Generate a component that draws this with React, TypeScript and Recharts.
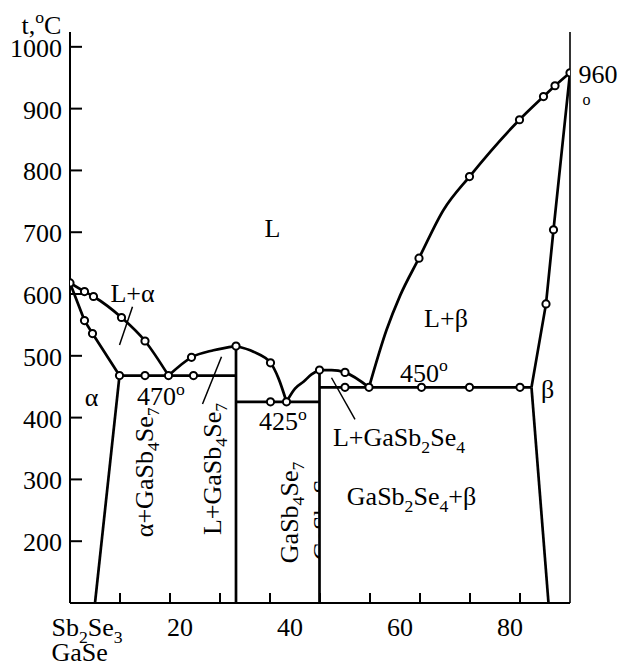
import React from 'react';
import { ComposedChart, XAxis, YAxis, Line, Scatter, ReferenceLine, ReferenceDot } from 'recharts';

// ---- data (x: mol % GaSe, t: temperature °C) ----
const liquidusAlpha = [[0, 618], [2.9, 604], [4.7, 596], [10.3, 562], [15.0, 524], [19.7, 468]];
const solidusAlpha = [[0, 618], [2.9, 557], [4.5, 536], [9.9, 468]];
const solvusAlpha = [[9.9, 468], [5.0, 100]];
const eutectic470 = [[9.9, 468], [33.2, 468]];
const liquidusA1Left = [[19.7, 468], [24.3, 497.5], [28.7, 509], [33.2, 515.8]];
const liquidusA1Right = [[33.2, 515.8], [36.7, 506.6], [40.1, 488.7], [41.7, 463.5], [43.3, 425.6]];
const compoundA1 = [[33.2, 515.8], [33.2, 100]];
const eutectic425 = [[33.2, 425.6], [49.9, 425.6]];
const liquidusA2Left = [[43.3, 425.6], [45.0, 447], [46.7, 458], [48.3, 470], [49.9, 477]];
const compoundA2 = [[49.9, 477], [49.9, 100]];
const liquidusA2Right = [[49.9, 477], [52.3, 477], [55.0, 473.2], [59.8, 449]];
const line450 = [[49.9, 449], [92.3, 449]];
const liquidusBeta = [[59.8, 449], [63.3, 541.7], [66.0, 597], [69.8, 658], [74.7, 736], [79.9, 790], [89.9, 882], [94.7, 919.5], [97.0, 937], [100, 958]];
const solidusBeta = [[100, 958], [96.7, 704], [95.2, 584], [92.3, 449]];
const solvusBeta = [[92.3, 449], [95.7, 100]];

const measuredPoints = [
  [0, 618], [2.9, 604], [4.7, 596], [10.3, 562], [15.0, 524], [2.9, 557], [4.5, 536],
  [9.9, 468], [15.0, 468], [19.7, 468], [24.7, 468], [24.3, 497.5], [33.2, 515.8], [40.1, 488.7],
  [40.1, 425.6], [43.3, 425.6], [49.9, 477], [55.0, 473.2], [55.0, 449], [59.8, 449], [70.3, 449],
  [79.9, 449], [90.0, 449], [69.8, 658], [79.9, 790], [89.9, 882], [94.7, 919.5], [97.0, 937],
  [100, 958], [96.7, 704], [95.2, 584],
];

const yTicks = [200, 300, 400, 500, 600, 700, 800, 900, 1000];
const xTicks = [10, 20, 30, 40, 50, 60, 70, 80, 90];
const xTickLabels = [20, 40, 60, 80];

const curvedSeries = [liquidusAlpha, liquidusA1Left, liquidusA1Right, liquidusA2Left, liquidusA2Right, liquidusBeta];
const straightSeries = [solidusAlpha, solvusAlpha, eutectic470, compoundA1, eutectic425, compoundA2, line450, solidusBeta, solvusBeta];

const leaders = [
  [[12.5, 579.4], [9.9, 517.4]],
  [[30.3, 498.5], [26.5, 421.9]],
  [[52.3, 464.5], [57.0, 397]],
];

// labels: text, x, t, anchor
const labels: [string, number, number, string][] = [
  ['L', 40.5, 692.8, 'middle'],
  ['L+α', 12.5, 587, 'middle'],
  ['α', 4.3, 418.6, 'middle'],
  ['470^o', 18.2, 420, 'middle'],
  ['425^o', 42.6, 380, 'middle'],
  ['450^o', 70.8, 458, 'middle'],
  ['L+GaSb_2Se_4', 65.8, 354, 'middle'],
  ['GaSb_2Se_4+β', 68.3, 258.3, 'middle'],
  ['β', 95.5, 431.6, 'middle'],
  ['L+β', 75.2, 546.6, 'middle'],
  ['960', 101.7, 941.2, 'start'],
  ['t,^oC', -9.7, 1021, 'start'],
  ['Sb_2Se_3', -3.7, 46.2, 'start'],
  ['GaSe', -3.7, 6.2, 'start'],
];
const verticalLabels: [string, number, number][] = [
  ['α+GaSb_4Se_7', 16.6, 206.5],
  ['L+GaSb_4Se_7', 30.2, 210],
  ['GaSb_4Se_7', 45.6, 164.4],
];
const hiddenLabel: [string, number, number] = ['GaSb_2Se_4', 49.9, 169];

const toPts = (a: number[][]) => a.map(([x, t]) => ({ x, t }));
const FONT = 'Liberation Serif, Times New Roman, serif';

function rich(text: string, size: number) {
  const out: any[] = [];
  let shift = 0;
  for (let i = 0; i < text.length; i++) {
    const c = text[i];
    if ((c === '_' || c === '^') && i + 1 < text.length) {
      const target = c === '_' ? size * 0.25 : -size * 0.4;
      out.push(<tspan key={i} dy={target - shift} fontSize={size * 0.68}>{text[i + 1]}</tspan>);
      shift = target;
      i++;
    } else {
      out.push(<tspan key={i} dy={-shift}>{c}</tspan>);
      shift = 0;
    }
  }
  return out;
}

const YTick = (p: any) => {
  const { x, y, payload } = p;
  return (
    <g>
      <line x1={x} x2={x + 12} y1={y} y2={y} stroke="#000" strokeWidth={2} />
      <text x={x - 8} y={y + 10} textAnchor="end" fontFamily={FONT} fontSize={26} fill="#000">{payload.value}</text>
    </g>
  );
};

const XTick = (p: any) => {
  const { x, y, payload } = p;
  const v = payload.value;
  return (
    <g>
      <line x1={x} x2={x} y1={y} y2={y - 10} stroke="#000" strokeWidth={2} />
      {xTickLabels.includes(v) && (
        <text x={x + v * 0.5} y={y + 33} textAnchor="middle" fontFamily={FONT} fontSize={26} fill="#000">{v}</text>
      )}
    </g>
  );
};

const circleShape = (p: any) => (
  <circle cx={p.cx} cy={p.cy} r={3.6} fill="#fff" stroke="#000" strokeWidth={2} />
);

export default function App() {
  return (
    <div style={{ position: 'absolute', left: 0, top: 0, background: '#fff' }}>
      <ComposedChart width={619} height={666} margin={{ top: 32, right: 49, bottom: 33, left: 0 }}>
        <XAxis type="number" dataKey="x" domain={[0, 100]} ticks={xTicks} interval={0} height={30}
          axisLine={{ stroke: '#000', strokeWidth: 2 }} tickLine={false} tickSize={0} tickMargin={0} tick={<XTick />} allowDataOverflow />
        <YAxis type="number" dataKey="t" domain={[100, 1024]} ticks={yTicks} interval={0} width={70}
          axisLine={{ stroke: '#000', strokeWidth: 2 }} tickLine={false} tickSize={0} tickMargin={0} tick={<YTick />} allowDataOverflow />
        <ReferenceLine x={100} stroke="#000" strokeWidth={1.6} />
        {leaders.map((s, i) => (
          <ReferenceLine key={'ld' + i} segment={[{ x: s[0][0], y: s[0][1] }, { x: s[1][0], y: s[1][1] }]} stroke="#000" strokeWidth={1.5} ifOverflow="visible" />
        ))}
        {straightSeries.map((s, i) => (
          <Line key={'s' + i} data={toPts(s)} dataKey="t" type="linear" stroke="#000" strokeWidth={2.7} dot={false} activeDot={false} isAnimationActive={false} />
        ))}
        {curvedSeries.map((s, i) => (
          <Line key={'c' + i} data={toPts(s)} dataKey="t" type="monotone" stroke="#000" strokeWidth={2.7} dot={false} activeDot={false} isAnimationActive={false} />
        ))}
        <Scatter data={toPts(measuredPoints)} dataKey="t" shape={circleShape} isAnimationActive={false} />
        {labels.map(([text, x, t, anchor], i) => (
          <ReferenceDot key={'lb' + i} x={x} y={t} r={0} ifOverflow="visible"
            shape={(p: any) => (
              <text x={p.cx} y={p.cy} textAnchor={anchor} fontFamily={FONT} fontSize={26} fill="#000">{rich(text, 26)}</text>
            )} />
        ))}
        <ReferenceDot x={101.7} y={941.2} r={0} ifOverflow="visible"
          shape={(p: any) => <text x={p.cx + 4} y={p.cy + 22} fontFamily={FONT} fontSize={16} fill="#000">o</text>} />
        {verticalLabels.map(([text, x, t], i) => (
          <ReferenceDot key={'vl' + i} x={x} y={t} r={0} ifOverflow="visible"
            shape={(p: any) => (
              <text x={p.cx} y={p.cy} transform={`rotate(-90 ${p.cx} ${p.cy})`} textAnchor="start" fontFamily={FONT} fontSize={26} fill="#000">{rich(text, 26)}</text>
            )} />
        ))}
        <ReferenceDot x={hiddenLabel[1]} y={hiddenLabel[2]} r={0} ifOverflow="visible"
          shape={(p: any) => (
            <g>
              <defs>
                <clipPath id="hiddenClip">
                  <rect x={p.cx - 40} y={p.cy - 160} width={40} height={170} />
                </clipPath>
              </defs>
              <g clipPath="url(#hiddenClip)">
                <text x={p.cx + 11.5} y={p.cy} transform={`rotate(-90 ${p.cx + 11.5} ${p.cy})`} textAnchor="start" fontFamily={FONT} fontSize={26} fill="#000">{rich(hiddenLabel[0], 26)}</text>
              </g>
            </g>
          )} />
      </ComposedChart>
    </div>
  );
}
